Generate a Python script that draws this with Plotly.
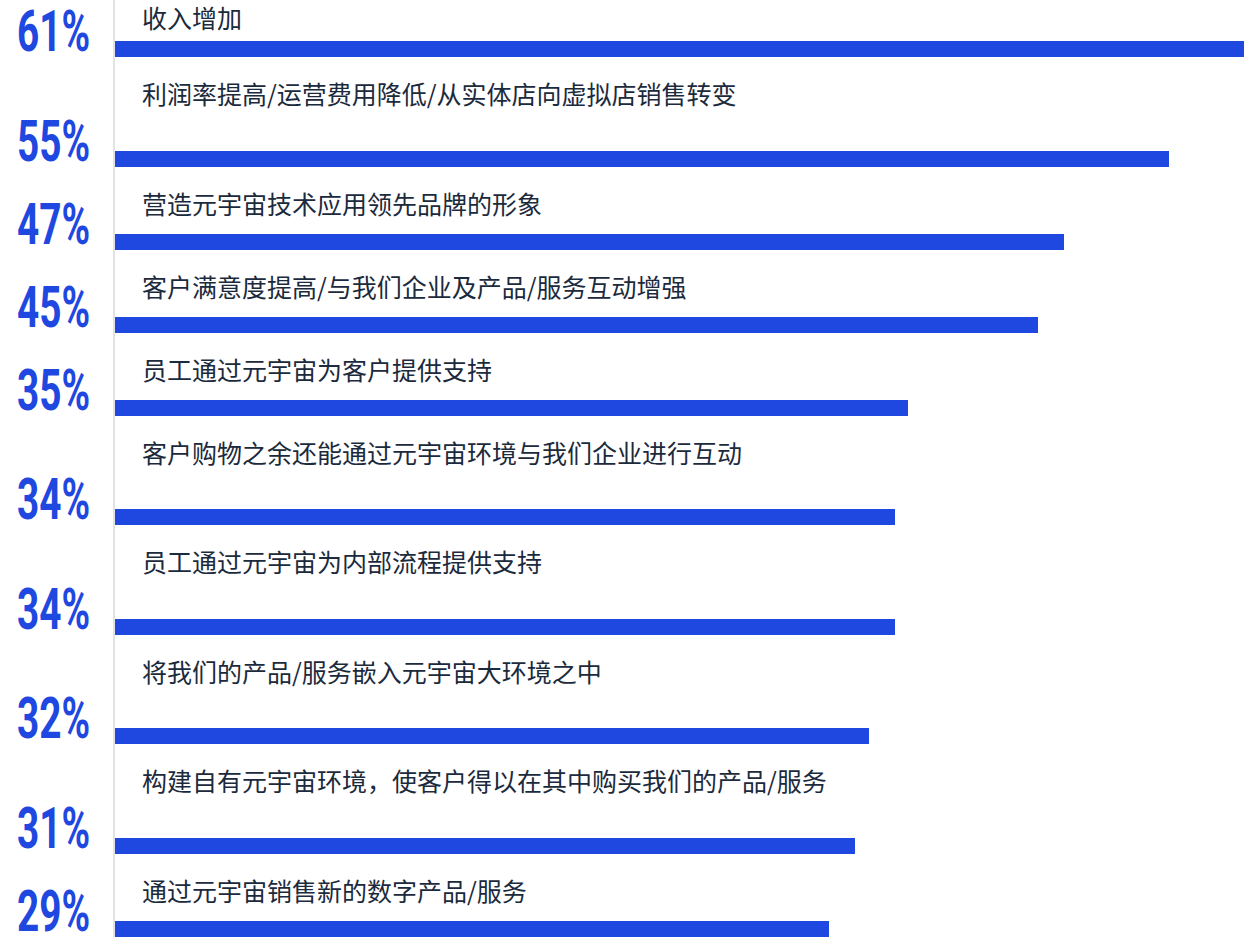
import plotly.graph_objects as go

# Survey results: expected benefits of the metaverse (share of respondents, %)
benefits = [
    "收入增加",
    "利润率提高/运营费用降低/从实体店向虚拟店销售转变",
    "营造元宇宙技术应用领先品牌的形象",
    "客户满意度提高/与我们企业及产品/服务互动增强",
    "员工通过元宇宙为客户提供支持",
    "客户购物之余还能通过元宇宙环境与我们企业进行互动",
    "员工通过元宇宙为内部流程提供支持",
    "将我们的产品/服务嵌入元宇宙大环境之中",
    "构建自有元宇宙环境，使客户得以在其中购买我们的产品/服务",
    "通过元宇宙销售新的数字产品/服务",
]
shares = [61, 55, 47, 45, 35, 34, 34, 32, 31, 29]

# Layout of the rows: how many text lines each caption block reserves
caption_lines = [1, 2, 1, 1, 1, 2, 2, 2, 2, 1]

W, H = 1244, 937
PLOT_LEFT = 115           # px, start of the bar area
AXIS_FLOOR = -25.7        # value where the bars start
AXIS_CEIL = 60.75
BLUE = "#1f48e0"
INK = "#1b2a3c"
BAR_PX = 16
ROW_BASE = 56.5           # px per row, plus one text line per caption line
LINE_PX = 26.5

# Row positions (pixel units on the y axis, top to bottom)
row_y = []
cursor = 49 - (ROW_BASE + LINE_PX * caption_lines[0])
for n in caption_lines:
    cursor += ROW_BASE + LINE_PX * n
    row_y.append(cursor)

fig = go.Figure()
fig.add_trace(go.Bar(
    orientation="h",
    y=row_y,
    x=[v - AXIS_FLOOR for v in shares],
    base=AXIS_FLOOR,
    width=BAR_PX,
    marker=dict(color=BLUE, line=dict(width=0)),
    customdata=shares,
    hovertemplate="%{customdata}%<extra></extra>",
))

annotations = []
prev = [row_y[0] - 76] + row_y[:-1]
for label, v, y, py in zip(benefits, shares, row_y, prev):
    # caption above the bar
    annotations.append(dict(
        xref="paper", yref="y", x=140 / W, y=py + 44,
        text=label, showarrow=False, xanchor="left", yanchor="middle",
        font=dict(family="Noto Sans CJK SC, sans-serif", size=25, color=INK),
    ))
    # big percentage at the left (narrowed below into a condensed look)
    annotations.append(dict(
        xref="paper", yref="y", x=15 / W, y=y - 17.5,
        text=f"{v}%", showarrow=False, xanchor="left", yanchor="middle",
        font=dict(family="Roboto, sans-serif", size=57, color=BLUE, weight="bold"),
    ))

fig.update_layout(
    width=W, height=H,
    margin=dict(l=0, r=0, t=0, b=0),
    paper_bgcolor="white", plot_bgcolor="white",
    showlegend=False,
    bargap=0,
    xaxis=dict(range=[AXIS_FLOOR, AXIS_CEIL], domain=[PLOT_LEFT / W, 1],
               visible=False, fixedrange=True),
    yaxis=dict(range=[H, 0], showgrid=False, zeroline=False, showticklabels=False,
               ticks="", showline=True, linecolor="#e2e2e2", linewidth=2,
               fixedrange=True),
    annotations=annotations,
)

# Condense the percentage figures horizontally, anchored at their left edge
condense_js = """
var gd = document.getElementById('{plot_id}');
function condense() {
  gd.querySelectorAll('.annotation-text').forEach(function (t) {
    if (/%$/.test(t.textContent)) {
      t.style.transformBox = 'fill-box';
      t.style.transformOrigin = 'left center';
      t.style.transform = 'scaleX(0.68)';
    }
  });
}
condense();
gd.on('plotly_afterplot', condense);
"""

fig.write_html("out.html", include_plotlyjs=True, full_html=True,
               config={"displayModeBar": False}, post_script=condense_js)
